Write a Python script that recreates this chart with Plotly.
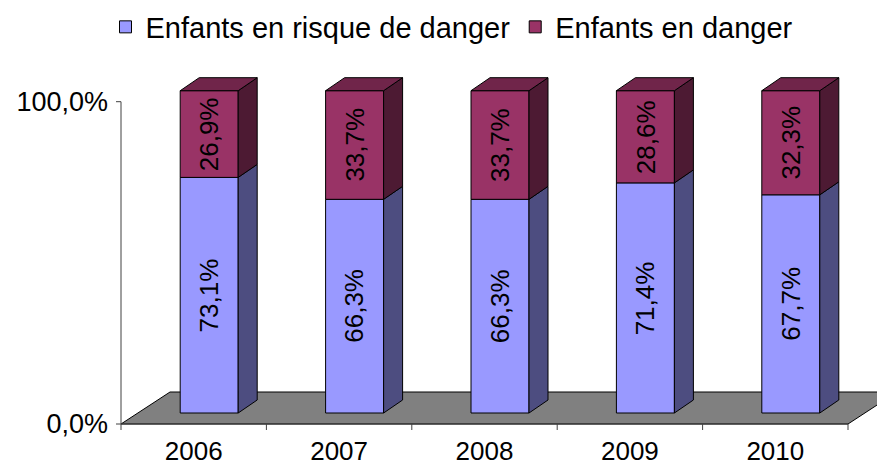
import plotly.graph_objects as go

# ---- data ----
years = ["2006", "2007", "2008", "2009", "2010"]
risque = [73.1, 66.3, 66.3, 71.4, 67.7]      # Enfants en risque de danger
danger = [26.9, 33.7, 33.7, 28.6, 32.3]      # Enfants en danger
series_names = ["Enfants en risque de danger", "Enfants en danger"]
y_tick_vals = [0, 100]
y_tick_text = ["0,0%", "100,0%"]

# ---- style / geometry constants ----
W, H = 885, 462
PAGE = 8                       # default page margin of the html body
# target screen positions
PLOT_L, PLOT_R, PLOT_T, PLOT_B = 113, 885, 70, 432
ZERO_Y_PX = 424                # screen row of y=0
AXIS_X_PX = 121                # screen column of category boundary -0.5
PXX = 145.4                    # px per category
PXY = 3.223                    # px per percent

ML = PLOT_L - PAGE
MT = PLOT_T - PAGE
MB = H - (PLOT_B - PAGE)
MR = W - (PLOT_R - PAGE)
plot_h = H - MT - MB

xmin = -0.5 - (AXIS_X_PX - PLOT_L) / PXX
xmax = xmin + (PLOT_R - PLOT_L) / PXX
ymax = (ZERO_Y_PX - PLOT_T) / PXY
ymin = -(PLOT_B - ZERO_Y_PX) / PXY

bar_w = 58 / PXX
off_x, off_y = 15.5 / PXX, 11 / PXY      # bar front face shift into depth
dep_x, dep_y = 19 / PXX, 13 / PXY        # bar depth
floor_x, floor_y = 49 / PXX, 32 / PXY    # floor depth

C_LOW, C_LOW_SIDE = "#9999FF", "#4D4D80"
C_HIGH, C_HIGH_SIDE, C_TOP = "#993366", "#4D1A33", "#70254A"
FONT = "Arial, Liberation Sans, sans-serif"

n = len(years)
xs = [i + off_x for i in range(n)]
base_low = [off_y] * n
base_high = [off_y + v for v in risque]

fig = go.Figure()

fig.add_trace(go.Bar(
    x=xs, y=risque, base=base_low, width=bar_w, name=series_names[0],
    marker=dict(color=C_LOW, line=dict(color="black", width=1)),
    hoverinfo="skip"))
fig.add_trace(go.Bar(
    x=xs, y=danger, base=base_high, width=bar_w, name=series_names[1],
    marker=dict(color=C_HIGH, line=dict(color="black", width=1)),
    hoverinfo="skip"))

# side and top faces
def poly(px, py, color):
    fig.add_trace(go.Scatter(
        x=px + [px[0]], y=py + [py[0]], mode="lines", fill="toself",
        fillcolor=color, line=dict(color="black", width=1),
        showlegend=False, hoverinfo="skip"))

for i in range(n):
    xr = xs[i] + bar_w / 2
    xl = xs[i] - bar_w / 2
    b0 = base_low[i]
    b1 = base_high[i]
    b2 = b1 + danger[i]
    poly([xr, xr + dep_x, xr + dep_x, xr], [b0, b0 + dep_y, b1 + dep_y, b1], C_LOW_SIDE)
    poly([xr, xr + dep_x, xr + dep_x, xr], [b1, b1 + dep_y, b2 + dep_y, b2], C_HIGH_SIDE)
    poly([xl, xr, xr + dep_x, xl + dep_x], [b2, b2, b2 + dep_y, b2 + dep_y], C_TOP)

# data labels
for i in range(n):
    for base, val in ((base_low[i], risque[i]), (base_high[i], danger[i])):
        fig.add_annotation(
            x=xs[i], y=base + val / 2, text=f"{val:.1f}%".replace(".", ","),
            textangle=-90, showarrow=False,
            font=dict(family=FONT, size=26, color="black"))

# floor, axis lines and ticks
x0, x1 = -0.5, n - 0.5
shapes = [dict(
    type="path", layer="below", xref="x", yref="y",
    path=f"M{x0},0 L{x1},0 L{x1 + floor_x},{floor_y} L{x0 + floor_x},{floor_y} Z",
    fillcolor="#808080", line=dict(color="black", width=1))]
shapes.append(dict(type="line", xref="x", yref="y", x0=x0, x1=x0, y0=0, y1=100,
                   line=dict(color="#404040", width=1)))
shapes.append(dict(type="line", xref="x", yref="y", x0=x0, x1=x1, y0=0, y1=0,
                   line=dict(color="#404040", width=1)))
for yv in y_tick_vals:
    shapes.append(dict(type="line", xref="x", yref="y", x0=x0 - 5 / PXX, x1=x0,
                       y0=yv, y1=yv, line=dict(color="#404040", width=1)))
for k in range(n + 1):
    shapes.append(dict(type="line", xref="x", yref="y", x0=k - 0.5, x1=k - 0.5,
                       y0=0, y1=-6 / PXY, line=dict(color="#404040", width=1)))

LEGEND_CY = 27 - PAGE          # figure row of legend centre
fig.update_layout(
    template="none",
    width=W, height=H, margin=dict(l=ML, r=MR, t=MT, b=MB, autoexpand=False),
    paper_bgcolor="white", plot_bgcolor="rgba(0,0,0,0)",
    barmode="overlay", shapes=shapes,
    font=dict(family=FONT, color="black"),
    legend=dict(orientation="h", x=(452 - PLOT_L) / (PLOT_R - PLOT_L),
                xanchor="center",
                y=1 + (MT - LEGEND_CY) / plot_h, yanchor="middle",
                font=dict(family=FONT, size=29), itemwidth=30,
                traceorder="normal", bgcolor="rgba(0,0,0,0)"),
    xaxis=dict(range=[xmin, xmax], tickvals=list(range(n)), ticktext=years,
               showgrid=False, zeroline=False, showline=False, ticks="",
               ticklabelstandoff=1,
               automargin=False, tickfont=dict(size=26), fixedrange=True),
    yaxis=dict(range=[ymin, ymax], tickvals=y_tick_vals, ticktext=y_tick_text,
               showgrid=False, zeroline=False, showline=False, ticks="",
               ticklabelstandoff=4,
               automargin=False, tickfont=dict(size=27), fixedrange=True),
)

fig.write_html("out.html")
